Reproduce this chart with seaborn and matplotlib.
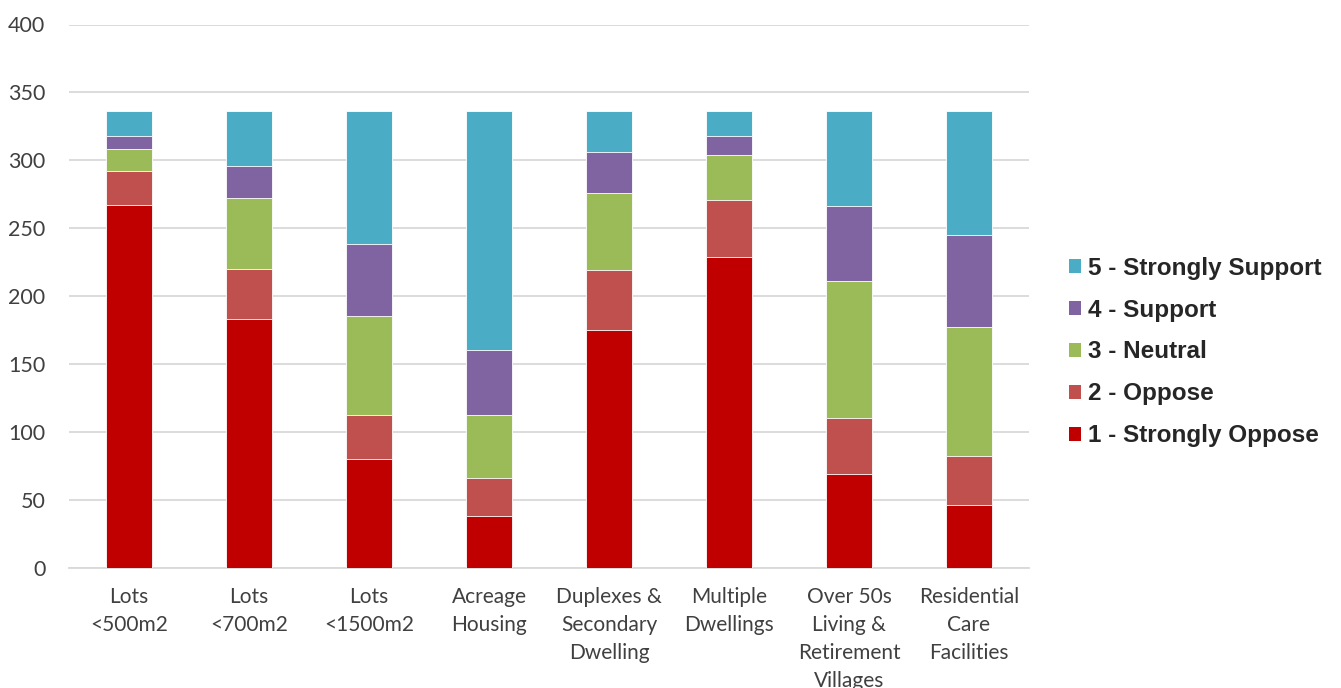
import numpy as np
import pandas as pd
import matplotlib
matplotlib.use("Agg")
import matplotlib.pyplot as plt
from matplotlib.patches import Patch
import seaborn as sns

# Chart data
categories = [
    "Lots\n<500m2",
    "Lots\n<700m2",
    "Lots\n<1500m2",
    "Acreage\nHousing",
    "Duplexes &\nSecondary\nDwelling",
    "Multiple\nDwellings",
    "Over 50s\nLiving &\nRetirement\nVillages",
    "Residential\nCare\nFacilities",
]
levels = [
    "1 - Strongly Oppose",
    "2 - Oppose",
    "3 - Neutral",
    "4 - Support",
    "5 - Strongly Support",
]
strongly_oppose = [267, 183, 80, 38, 175, 229, 69, 46]
oppose = [25, 37, 32, 28, 44, 42, 41, 36]
neutral = [16, 52, 73, 46, 57, 33, 101, 95]
support = [10, 24, 53, 48, 30, 14, 55, 68]
strongly_support = [18, 40, 98, 176, 30, 18, 70, 91]
y_ticks = [0, 50, 100, 150, 200, 250, 300, 350, 400]

colors = ["#C00000", "#C0504D", "#9BBB59", "#8064A2", "#4BACC6"]

sns.set_style("white")
plt.rcParams["font.family"] = ["Lato", "DejaVu Sans"]

df = pd.DataFrame(
    {
        "category": categories,
        levels[0]: strongly_oppose,
        levels[1]: oppose,
        levels[2]: neutral,
        levels[3]: support,
        levels[4]: strongly_support,
    }
)
# cumulative heights so each level can be drawn as a full bar from zero
cum = df[levels].cumsum(axis=1)
cum["category"] = categories

fig = plt.figure(figsize=(13.41, 6.88), dpi=100)
ax = fig.add_axes([69 / 1341, 1 - 567.5 / 688, 960 / 1341, (567.5 - 24.5) / 688])

# draw top level first so lower levels sit on top of it
for level, color in reversed(list(zip(levels, colors))):
    sns.barplot(
        data=cum,
        x="category",
        y=level,
        color=color,
        width=0.39,
        saturation=1,
        edgecolor="#ffffff",
        linewidth=0.6,
        ax=ax,
        zorder=3,
    )

ax.set_ylim(0, 400)
ax.set_xlim(-0.5, len(categories) - 0.5)
ax.set_yticks(y_ticks)
ax.set_xticks(range(len(categories)))
ax.set_xticklabels(categories, linespacing=1.5)
ax.set_xlabel("")
ax.set_ylabel("")
ax.yaxis.grid(True, color="#D9D9D9", linewidth=1.3, zorder=0)
ax.set_axisbelow(True)
for side in ["top", "right", "left"]:
    ax.spines[side].set_visible(False)
ax.spines["bottom"].set_color("#D9D9D9")
ax.spines["bottom"].set_linewidth(1.3)
ax.tick_params(axis="y", length=0, pad=17, labelsize=15.5, labelcolor="#404040")
ax.tick_params(axis="x", length=0, pad=14, labelsize=15, labelcolor="#404040")

handles = [Patch(facecolor=c, edgecolor="none") for c in colors][::-1]
ax.legend(
    handles,
    levels[::-1],
    loc="center left",
    bbox_to_anchor=(1047 / 1341, 1 - 352 / 688),
    bbox_transform=fig.transFigure,
    frameon=False,
    handlelength=0.5,
    handleheight=0.5,
    handletextpad=0.3,
    labelspacing=0.78,
    prop={"family": "Liberation Sans", "weight": "bold", "size": 17.5},
)

fig.savefig("out.png", dpi=100)
